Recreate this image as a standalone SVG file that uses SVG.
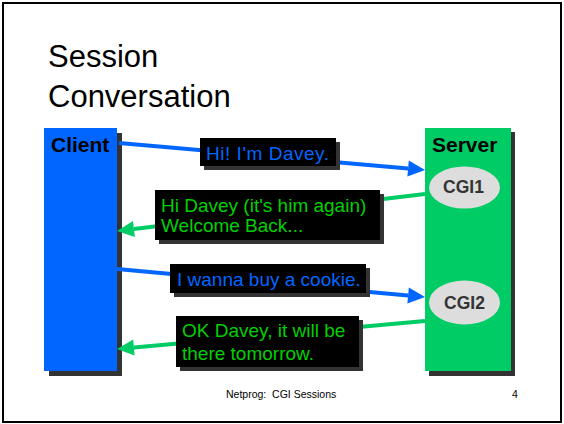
<svg xmlns="http://www.w3.org/2000/svg" width="564" height="424" viewBox="0 0 564 424">
<defs>
<style>
.frame{fill:#fff;stroke:#000;stroke-width:2}
.shadow{fill:#333}
.client{fill:#0066FF}
.server{fill:#00CC66}
.cgi{fill:#DDDDDD}
.head{font-family:"Liberation Sans",Arial,sans-serif;font-weight:bold;font-size:21px;fill:#000}
.cgit{font-family:"Liberation Sans",Arial,sans-serif;font-weight:bold;font-size:17.5px;fill:#333;text-anchor:middle}
.title{font-family:"Liberation Sans",Arial,sans-serif;font-size:31px;fill:#000}
.foot{font-family:"Liberation Sans",Arial,sans-serif;font-size:10.5px;fill:#000;white-space:pre}
.lbl{fill:#000}
.msg{font-family:"Liberation Sans",Arial,sans-serif;font-size:19px}
.blue{fill:#0066FF}
.green{fill:#00D000}
.cb{stroke:#0066FF;stroke-width:4;fill:none}
.cg{stroke:#00CC66;stroke-width:4;fill:none}
</style>
<marker id="ab" markerUnits="userSpaceOnUse" markerWidth="17" markerHeight="16" refX="0" refY="8" orient="auto" overflow="visible">
<path d="M0,0 L17,8 L0,16 z" fill="#0066FF"/>
</marker>
<marker id="ag" markerUnits="userSpaceOnUse" markerWidth="17" markerHeight="16" refX="0" refY="8" orient="auto" overflow="visible">
<path d="M0,0 L17,8 L0,16 z" fill="#00CC66"/>
</marker>
</defs>
<rect class="frame" x="3" y="3" width="558" height="419"/>
<g id="title">
<text class="title" x="48" y="67">Session</text>
<text class="title" x="48" y="107">Conversation</text>
</g>
<g id="client">
<rect class="shadow" x="49" y="133" width="73" height="243"/>
<rect class="client" x="44" y="128" width="73" height="243"/>
<text class="head" x="51" y="152">Client</text>
</g>
<g id="server">
<rect class="shadow" x="429" y="132" width="86" height="244"/>
<rect class="server" x="425" y="128" width="86" height="243"/>
<text class="head" x="432" y="152">Server</text>
</g>
<g id="cgi1">
<ellipse class="cgi" cx="464.5" cy="187.5" rx="35.5" ry="21"/>
<text class="cgit" x="463.5" y="193">CGI1</text>
</g>
<g id="cgi2">
<ellipse class="cgi" cx="464.5" cy="302.5" rx="35.5" ry="22"/>
<text class="cgit" x="464.5" y="309">CGI2</text>
</g>
<g id="connectors">
<line class="cb" x1="119" y1="143" x2="408.1" y2="168.5" marker-end="url(#ab)"/>
<line class="cg" x1="425" y1="194" x2="133.9" y2="229" marker-end="url(#ag)"/>
<line class="cb" x1="117" y1="269" x2="408.1" y2="295.5" marker-end="url(#ab)"/>
<line class="cg" x1="425" y1="321" x2="133.9" y2="347.5" marker-end="url(#ag)"/>
</g>
<g id="label1">
<rect class="shadow" x="204" y="142" width="136" height="28"/>
<rect class="lbl" x="200" y="138" width="136" height="28"/>
<text class="msg blue" x="206" y="159.5" textLength="123" lengthAdjust="spacing">Hi! I'm Davey.</text>
</g>
<g id="label2">
<rect class="shadow" x="159" y="194" width="225" height="50"/>
<rect class="lbl" x="155" y="190" width="225" height="50"/>
<text class="msg green" x="161" y="211.5">Hi Davey (it's him again)</text>
<text class="msg green" x="161" y="232">Welcome Back...</text>
</g>
<g id="label3">
<rect class="shadow" x="174" y="268" width="196" height="29"/>
<rect class="lbl" x="170" y="264" width="196" height="29"/>
<text class="msg blue" x="177" y="286">I wanna buy a cookie.</text>
</g>
<g id="label4">
<rect class="shadow" x="180" y="320" width="183" height="51"/>
<rect class="lbl" x="176" y="316" width="183" height="51"/>
<text class="msg green" x="182" y="337">OK Davey, it will be</text>
<text class="msg green" x="182" y="359.5">there tomorrow.</text>
</g>
<g id="footer">
<text class="foot" x="226" y="398">Netprog:  CGI Sessions</text>
<text class="foot" x="512" y="398">4</text>
</g>
</svg>
